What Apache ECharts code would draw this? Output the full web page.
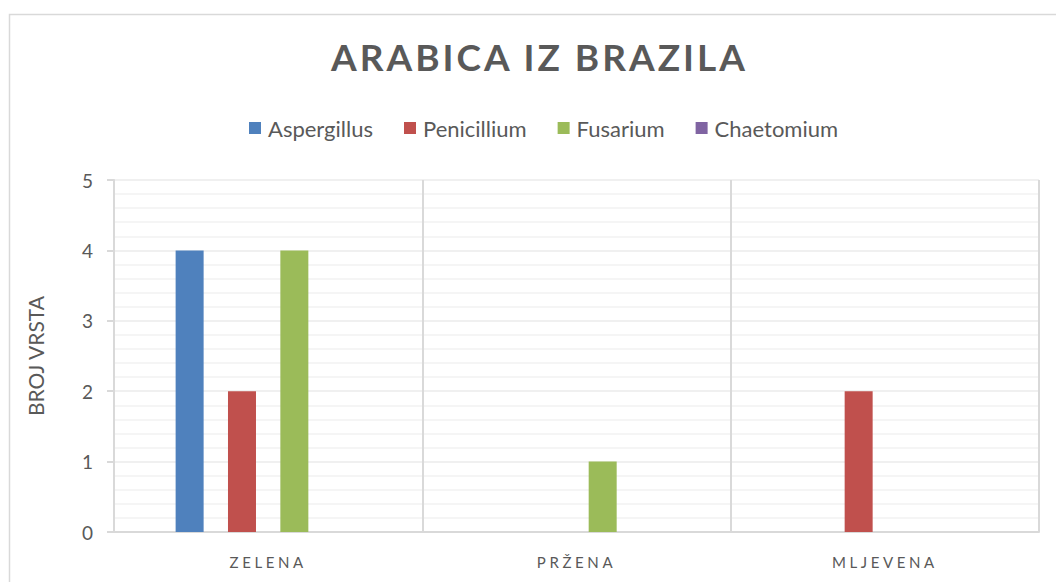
<!DOCTYPE html>
<html>
<head>
<meta charset="utf-8">
<script src="https://cdn.jsdelivr.net/npm/echarts@6/dist/echarts.min.js"></script>
<style>
  html, body { margin: 0; padding: 0; background: #fff; }
  #chart { width: 1056px; height: 582px; }
  #chart text[style*="bold"] { letter-spacing: 3px; }
  #chart text[style*="Arial"] { letter-spacing: 3.6px; }
</style>
</head>
<body>
<div id="chart"></div>
<script>
const titleText = 'ARABICA IZ BRAZILA';
const categories = ['ZELENA', 'PRŽENA', 'MLJEVENA'];
const seriesNames = ['Aspergillus', 'Penicillium', 'Fusarium', 'Chaetomium'];
const aspergillus = [4, 0, 0];
const penicillium = [2, 0, 2];
const fusarium = [4, 1, 0];
const chaetomium = [0, 0, 0];
const yAxisName = 'BROJ VRSTA';
const colors = ['#4f81bd', '#c0504d', '#9bbb59', '#8064a2'];

const seriesData = [aspergillus, penicillium, fusarium, chaetomium];
const chart = echarts.init(document.getElementById('chart'), null, { renderer: 'svg' });
chart.setOption({
  animation: false,
  color: colors,
  title: {
    text: titleText,
    left: 331,
    top: 38,
    padding: 0,
    textStyle: { fontFamily: 'Lato', fontWeight: 'bold', fontSize: 37, color: '#595959' }
  },
  legend: {
    top: 112,
    left: 244,
    icon: 'rect',
    itemWidth: 12,
    itemHeight: 12,
    itemGap: 31,
    textStyle: { fontFamily: 'Lato', fontSize: 22, color: '#595959', padding: [0, 0, 0, 2] },
    data: seriesNames
  },
  graphic: [{
    type: 'rect',
    shape: { x: 9.5, y: 14.5, width: 1100, height: 600 },
    style: { fill: 'none', stroke: '#d9d9d9', lineWidth: 1.5 },
    silent: true,
    z: -1
  }],
  grid: { left: 114, right: 17, top: 180, bottom: 50 },
  xAxis: {
    type: 'category',
    data: categories,
    axisLine: { lineStyle: { color: '#d9d9d9', width: 2 } },
    axisTick: { show: false },
    splitLine: { show: true, lineStyle: { color: '#d9d9d9', width: 2 } },
    axisLabel: { fontFamily: 'Lato, Arial', fontSize: 15, color: '#595959', margin: 22 }
  },
  yAxis: {
    type: 'value',
    min: 0,
    max: 5,
    interval: 1,
    name: yAxisName,
    nameLocation: 'middle',
    nameRotate: 90,
    nameGap: 68,
    nameTextStyle: { fontFamily: 'Lato', fontSize: 21, color: '#595959' },
    axisLine: { show: true, lineStyle: { color: '#d9d9d9', width: 2 } },
    axisTick: { show: true, length: 7, lineStyle: { color: '#d9d9d9', width: 2 } },
    axisLabel: { fontFamily: 'Lato', fontSize: 19, color: '#595959', margin: 21 },
    splitLine: { show: true, lineStyle: { color: '#ebebeb', width: 1.5 } },
    minorTick: { show: false, splitNumber: 5 },
    minorSplitLine: { show: true, lineStyle: { color: '#f2f2f2', width: 1.5 } }
  },
  series: seriesNames.map((name, i) => ({
    name: name,
    type: 'bar',
    data: seriesData[i],
    barWidth: 28,
    barGap: '87%',
    itemStyle: { color: colors[i] }
  }))
});
</script>
</body>
</html>
